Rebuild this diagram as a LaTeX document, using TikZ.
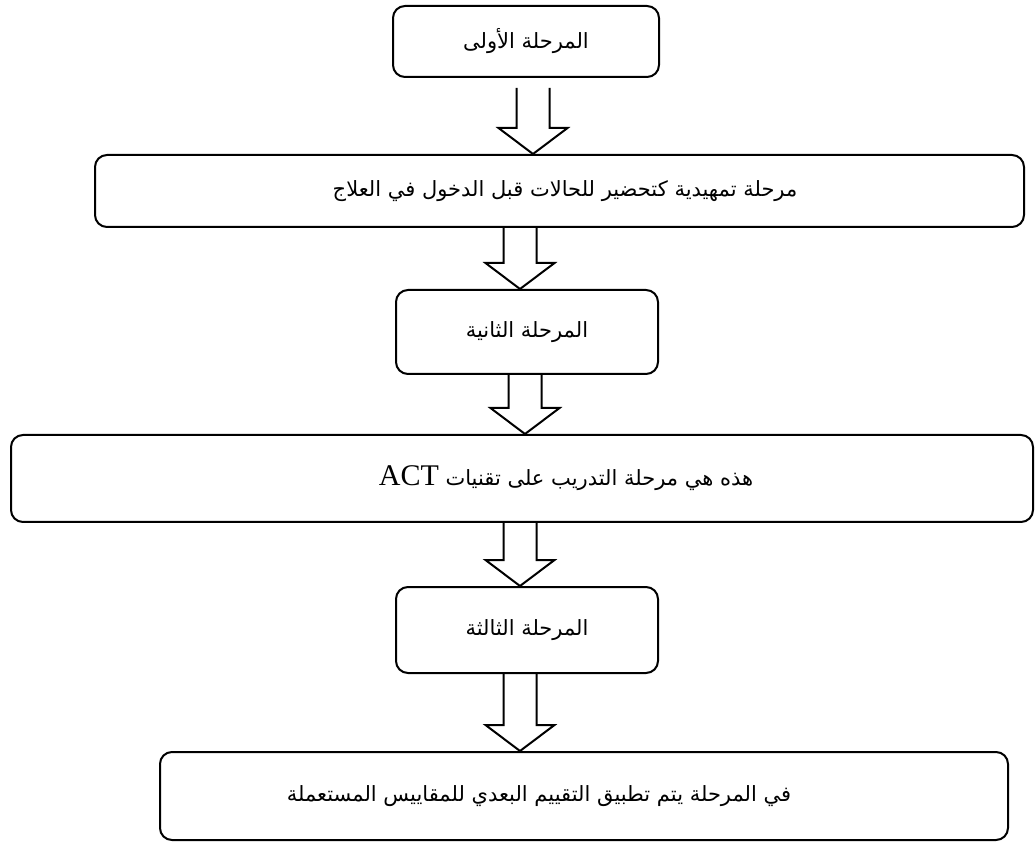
\documentclass[tikz,border=0pt]{standalone}
\usepackage{fontspec}
\setmainfont{Liberation Serif}
\newfontfamily\arabicfont[Script=Arabic]{DejaVu Sans}
\newfontfamily\latinfont{Liberation Serif}
\usetikzlibrary{calc}
\TeXXeTstate=1

% hollow block arrow from the bottom of one box to the top of the next
\newcommand{\blockarrow}[4][0]{%
  \draw[barrow] let \p1=(#2.south), \p2=(#3.north) in
    (#4pt-16.5pt,\y1-#1pt) -- (#4pt-16.5pt,\y2+26pt) -- (#4pt-34.5pt,\y2+26pt)
    -- (#4pt,\y2) -- (#4pt+34.5pt,\y2+26pt) -- (#4pt+16.5pt,\y2+26pt)
    -- (#4pt+16.5pt,\y1-#1pt);}

\begin{document}
\begin{tikzpicture}[x=1pt,y=1pt]
  \tikzstyle{stage} = [draw, line width=2pt, rounded corners=12pt, inner sep=0pt,
    font=\arabicfont\fontsize{21}{25}\selectfont]
  \tikzstyle{barrow} = [line width=2pt, line join=miter]
  \useasboundingbox (0,0) rectangle (1035,841);
  \clip (0,0) rectangle (1035,841);
  \node[stage, minimum width=266pt, minimum height=71pt] (s1) at (526,799.5)
    {\beginR المرحلة الأولى\endR};
  \node[stage, minimum width=929pt, minimum height=72pt] (s2) at (559.5,650)
    {\hspace*{11pt}\beginR مرحلة تمهيدية كتحضير للحالات قبل الدخول في العلاج\endR};
  \node[stage, minimum width=262pt, minimum height=84pt] (s3) at (527,509)
    {\beginR المرحلة الثانية\endR};
  \node[stage, minimum width=1022pt, minimum height=87pt] (s4) at (522,362.5)
    {\hspace*{88pt}\beginR هذه هي مرحلة التدريب على تقنيات {\latinfont\fontsize{30}{32}\selectfont\beginL ACT\endL}\endR};
  \node[stage, minimum width=262pt, minimum height=86pt] (s5) at (527,211)
    {\beginR المرحلة الثالثة\endR};
  \node[stage, minimum width=848pt, minimum height=88pt] (s6) at (584,45)
    {\beginR في المرحلة يتم تطبيق التقييم البعدي للمقاييس المستعملة\endR\hspace*{90pt}};
  \blockarrow[10]{s1}{s2}{533}
  \blockarrow{s2}{s3}{520}
  \blockarrow{s3}{s4}{525}
  \blockarrow{s4}{s5}{520}
  \blockarrow{s5}{s6}{520}
\end{tikzpicture}
\end{document}
